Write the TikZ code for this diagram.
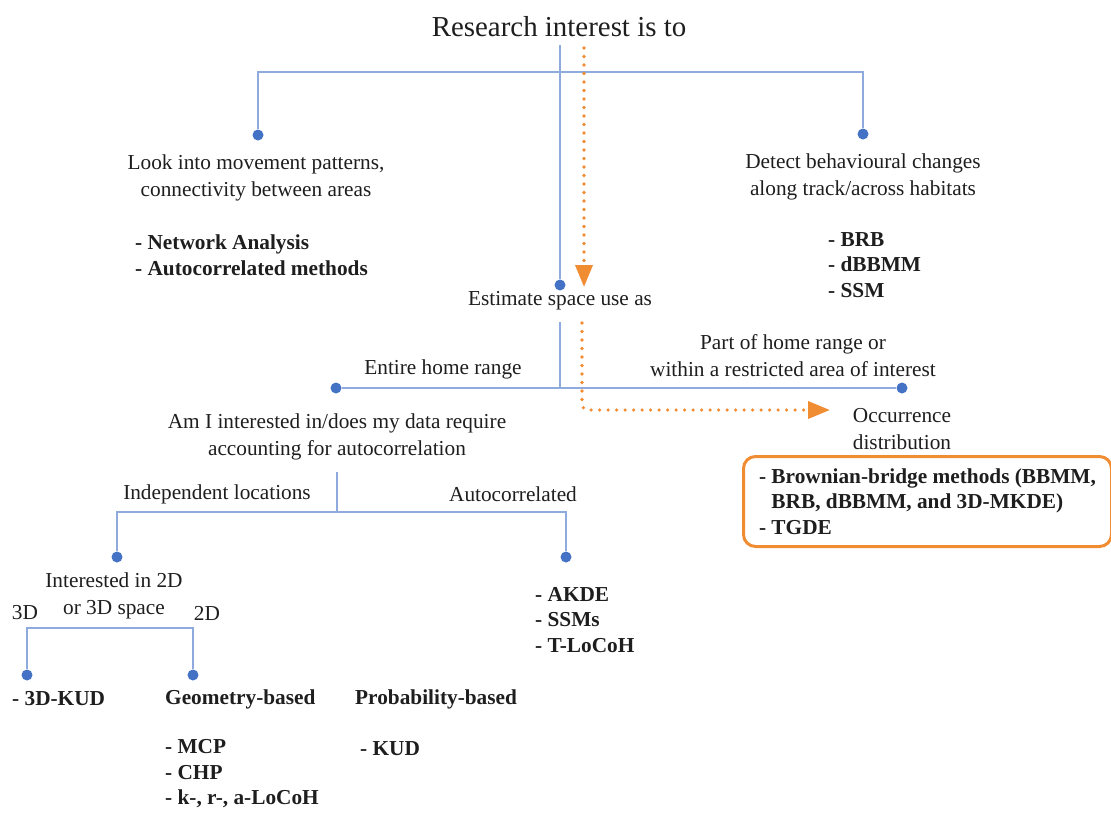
\documentclass[tikz,border=0pt]{standalone}
\usepackage{fontspec}
\setmainfont{Liberation Serif}
\usetikzlibrary{arrows.meta}
\definecolor{lblue}{RGB}{143,170,220}
\definecolor{dblue}{RGB}{68,114,196}
\definecolor{orng}{RGB}{240,140,50}
\definecolor{txtc}{RGB}{30,30,30}
\begin{document}
\begin{tikzpicture}[x=1pt,y=-1pt,
  txt/.style={font=\fontsize{21.3}{27}\selectfont, text=txtc, inner sep=0pt, align=center},
  btxt/.style={font=\fontsize{21.3}{25.5}\selectfont\bfseries, text=txtc, inner sep=0pt, align=left},
  dot/.style={circle, fill=dblue, inner sep=0pt, minimum size=11pt},
  link/.style={draw=lblue, line width=1.5pt},
  oarrow/.style={draw=orng, line width=3.6pt, line cap=round, dash pattern=on 0pt off 8.5pt,
     -{Triangle[length=22pt,width=17pt]}}]
\useasboundingbox (0,0) rectangle (1111,812);

% text nodes
\node[txt, font=\fontsize{28.9}{34}\selectfont] (title) at (559,27) {Research interest is to};
\node[txt] (look) at (256,178) {Look into movement patterns,\\connectivity between areas};
\node[btxt, anchor=west] (netw) at (135,255) {- Network Analysis\\- Autocorrelated methods};
\node[txt] (detect) at (863,177) {Detect behavioural changes\\along track/across habitats};
\node[btxt, anchor=west] (brb) at (828,265) {- BRB\\- dBBMM\\- SSM};
\node[txt] (est) at (560,301) {Estimate space use as};
\node[txt] (entire) at (443,369) {Entire home range};
\node[txt] (part) at (793,356) {Part of home range or\\within a restricted area of interest};
\node[txt] (occ) at (902,429) {Occurrence\\distribution};
\node[btxt, draw=orng, line width=3pt, rounded corners=12pt, anchor=north west,
      minimum width=368pt, minimum height=90pt, inner xsep=0pt] (bb) at (742,455)
      {- Brownian-bridge methods (BBMM,\\\phantom{- }BRB, dBBMM, and 3D-MKDE)\\- TGDE};
\node[txt] (ami) at (337,437) {Am I interested in/does my data require\\accounting for autocorrelation};
\node[txt] (indep) at (217,494) {Independent locations};
\node[txt] (autoc) at (513,494) {Autocorrelated};
\node[txt] (inter) at (114,596) {Interested in 2D\\or 3D space};
\node[txt] (l3d) at (25,613) {3D};
\node[txt] (l2d) at (207,613) {2D};
\node[btxt, anchor=west] (kud3d) at (12,699) {- 3D-KUD};
\node[btxt, anchor=west] (geom) at (165,699) {Geometry-based};
\node[btxt, anchor=west] (prob) at (355,699) {Probability-based};
\node[btxt, anchor=west] (mcp) at (165,774) {- MCP\\- CHP\\- k-, r-, a-LoCoH};
\node[btxt, anchor=west] (kud) at (360,749) {- KUD};
\node[btxt, anchor=west] (akde) at (535,620) {- AKDE\\- SSMs\\- T-LoCoH};

% dots
\node[dot] (dLook) at (258,135) {};
\node[dot] (dDetect) at (863,134) {};
\node[dot] (dEst) at (560,285) {};
\node[dot] (dEntire) at (336,388) {};
\node[dot] (dPart) at (902,388) {};
\node[dot] (dIndep) at (117,557) {};
\node[dot] (dAuto) at (566,557) {};
\node[dot] (d3d) at (27,675) {};
\node[dot] (d2d) at (193,675) {};

% junctions
\coordinate (jTopS) at (560,45);
\coordinate (jTop) at (560,72);
\coordinate (jMidS) at (560,322);
\coordinate (jMid) at (560,388);
\coordinate (jLowS) at (337,472);
\coordinate (jLow) at (337,512);
\coordinate (jSub) at (110,628);

% blue connectors
\draw[link] (jTopS) -- (dEst);
\draw[link] (dLook) |- (jTop) -| (dDetect);
\draw[link] (jMidS) -- (jMid);
\draw[link] (dEntire) -- (dPart);
\draw[link] (jLowS) -- (jLow);
\draw[link] (dIndep) |- (jLow) -| (dAuto);
\draw[link] (d3d) |- (jSub) -| (d2d);

% orange arrows
\coordinate (o1s) at (584,48);
\coordinate (o1e) at (584,287);
\coordinate (o2s) at (582,323);
\coordinate (o2e) at (830,410);
\draw[oarrow] (o1s) -- (o1e);
\draw[oarrow, rounded corners=6pt] (o2s) |- (o2e);
\end{tikzpicture}
\end{document}
